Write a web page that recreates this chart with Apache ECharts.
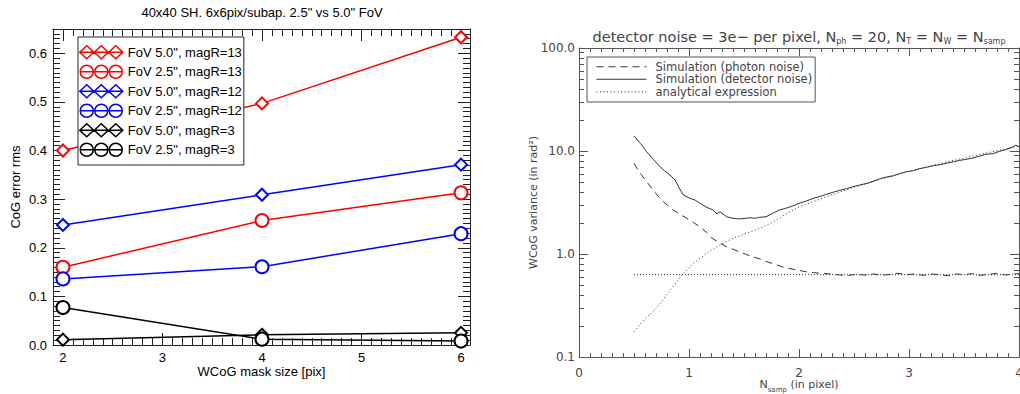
<!DOCTYPE html>
<html><head><meta charset="utf-8">
<script src="https://cdn.jsdelivr.net/npm/echarts@6/dist/echarts.min.js"></script>
<style>html,body{margin:0;padding:0;background:#fff;}#c{width:1020px;height:394px;}</style>
</head><body><div id="c"></div>
<script>
// ---------------- Left chart data ----------------
const maskSize = [2, 4, 6];
const fov50mag13 = [0.400, 0.497, 0.633];
const fov25mag13 = [0.160, 0.256, 0.313];
const fov50mag12 = [0.247, 0.309, 0.371];
const fov25mag12 = [0.136, 0.161, 0.229];
const fov50mag3  = [0.011, 0.021, 0.025];
const fov25mag3  = [0.077, 0.012, 0.008];
const leftNames = ['FoV 5.0", magR=13', 'FoV 2.5", magR=13', 'FoV 5.0", magR=12',
                   'FoV 2.5", magR=12', 'FoV 5.0", magR=3', 'FoV 2.5", magR=3'];
const leftXTicks = [2, 3, 4, 5, 6];
const leftYTicks = [0.0, 0.1, 0.2, 0.3, 0.4, 0.5, 0.6];

// ---------------- Right chart data ----------------
const photonX = [0.50,0.55,0.615,0.68,0.736,0.80,0.857,0.92,0.979,1.04,1.10,1.16,1.21,1.28,1.34,1.40,1.46,1.52,1.58,1.65,1.71,1.77,1.83,1.89,1.95,2.01,2.07,2.13,2.19,2.28,2.37,2.45,2.52,2.60,2.68,2.75,2.83,2.90,2.98,3.05,3.13,3.20,3.28,3.35,3.43,3.50,3.58,3.65,3.73,3.80,3.88,3.95,4.00];
const photonY = [7.6,6.2,5.03,4.1,3.47,3.0,2.67,2.42,2.22,2.02,1.84,1.62,1.42,1.28,1.18,1.11,1.05,0.99,0.94,0.89,0.84,0.80,0.76,0.73,0.71,0.69,0.67,0.66,0.65,0.64,0.626,0.62,0.635,0.625,0.64,0.62,0.635,0.65,0.63,0.64,0.62,0.64,0.63,0.615,0.64,0.63,0.645,0.62,0.635,0.65,0.625,0.64,0.645];
const detX = [0.50,0.56,0.615,0.68,0.736,0.78,0.827,0.873,0.91,0.948,1.009,1.055,1.10,1.161,1.221,1.252,1.282,1.342,1.40,1.448,1.50,1.552,1.60,1.642,1.70,1.76,1.82,1.88,1.94,2.00,2.07,2.13,2.19,2.25,2.31,2.37,2.43,2.49,2.56,2.62,2.68,2.74,2.80,2.86,2.92,2.98,3.04,3.10,3.16,3.22,3.28,3.34,3.40,3.46,3.52,3.58,3.64,3.70,3.76,3.82,3.88,3.94,3.97,4.00];
const detY = [14.0,11.8,9.85,8.2,7.04,6.4,5.85,5.23,4.4,3.74,3.47,3.34,3.1,2.84,2.67,2.45,2.57,2.30,2.22,2.19,2.21,2.25,2.22,2.27,2.30,2.48,2.67,2.78,2.92,3.1,3.28,3.47,3.62,3.8,3.98,4.15,4.3,4.5,4.7,4.85,5.1,5.4,5.6,5.75,6.05,6.3,6.45,6.75,6.95,7.2,7.35,7.6,7.85,8.1,8.3,8.55,8.9,9.3,9.4,9.9,10.3,10.9,11.4,11.0];
const anaX = [0.50,0.60,0.706,0.827,0.933,1.04,1.16,1.28,1.40,1.52,1.65,1.77,1.89,2.00,2.25,2.50,2.75,3.00,3.25,3.50,3.75,4.00];
const anaY = [0.176,0.235,0.30,0.44,0.62,0.81,1.016,1.22,1.42,1.59,1.78,2.06,2.48,2.85,3.6,4.45,5.35,6.35,7.4,8.55,9.8,11.2];
const constX = [0.5, 4.0];
const constY = [0.63, 0.63];
const rightNames = ['Simulation (photon noise)', 'Simulation (detector noise)', 'analytical expression'];
const rightXTicks = [0, 1, 2, 3, 4];
const rightYTicks = [0.1, 1, 10, 100];

// ---------------- helpers ----------------
function steps(a, b, s) { const out = []; const n = Math.round((b - a) / s); for (let i = 0; i <= n; i++) out.push(+(a + i * s).toFixed(6)); return out; }
function pairs(xs, ys) { return xs.map((x, i) => [x, ys[i]]); }
const FL = 'Liberation Sans';
const FR = 'DejaVu Sans';
const CL = '#222';
const CR = '#555';
const TR = '#444';

const leftXMinor = steps(2.0, 6.0, 0.1);
const leftYMinor = steps(0.0, 0.65, 0.01);
const rightXMinor = steps(0, 4, 0.1);
const rightYMinorLog = [];
[-1, 0, 1].forEach(k => { for (let m = 2; m <= 9; m++) rightYMinorLog.push(Math.log10(m) + k); });
const rightYMajorLog = rightYTicks.map(v => Math.log10(v));

function ax(o) {
  const base = { type: 'value', splitLine: { show: false },
    axisLine: { show: false, onZero: false }, axisLabel: { show: false }, axisTick: { show: false } };
  return Object.assign(base, o);
}
function tick(vals, len, color) { return { show: true, inside: true, length: len, customValues: vals, lineStyle: { color: color, width: 1 } }; }
const lineOn = (c) => ({ show: true, onZero: false, lineStyle: { color: c, width: 1 } });

const xAxes = [
  ax({ gridIndex: 0, position: 'bottom', min: 1.9, max: 6.09, axisLine: lineOn(CL),
       axisTick: tick(leftXTicks, 12, CL),
       axisLabel: { show: true, customValues: leftXTicks, margin: 6, color: '#000', fontSize: 13, fontFamily: FL },
       name: 'WCoG mask size [pix]', nameLocation: 'middle', nameGap: 20, nameMoveOverlap: false,
       nameTextStyle: { color: '#000', fontSize: 13, fontFamily: FL } }),
  ax({ gridIndex: 0, position: 'bottom', min: 1.9, max: 6.09, axisTick: tick(leftXMinor, 7, CL) }),
  ax({ gridIndex: 0, position: 'top', min: 1.9, max: 6.09, axisLine: lineOn(CL), axisTick: tick(leftXTicks, 12, CL) }),
  ax({ gridIndex: 0, position: 'top', min: 1.9, max: 6.09, axisTick: tick(leftXMinor, 7, CL) }),
  ax({ gridIndex: 1, position: 'bottom', min: 0, max: 4, axisLine: lineOn(CR),
       axisTick: tick(rightXTicks, 8, CR),
       axisLabel: { show: true, customValues: rightXTicks, margin: 10, color: TR, fontSize: 12, fontFamily: FR } }),
  ax({ gridIndex: 1, position: 'bottom', min: 0, max: 4, axisTick: tick(rightXMinor, 4, CR) }),
  ax({ gridIndex: 1, position: 'top', min: 0, max: 4, axisLine: lineOn(CR), axisTick: tick(rightXTicks, 8, CR) }),
  ax({ gridIndex: 1, position: 'top', min: 0, max: 4, axisTick: tick(rightXMinor, 4, CR) })
];

const yAxes = [
  ax({ gridIndex: 0, position: 'left', min: 0, max: 0.65, axisLine: lineOn(CL),
       axisTick: tick(leftYTicks, 12, CL),
       axisLabel: { show: true, customValues: leftYTicks, margin: 6, color: '#000', fontSize: 13, fontFamily: FL,
                    formatter: v => Number(v).toFixed(1) },
       name: 'CoG error rms', nameLocation: 'middle', nameGap: 31, nameMoveOverlap: false,
       nameTextStyle: { color: '#000', fontSize: 13, fontFamily: FL } }),
  ax({ gridIndex: 0, position: 'left', min: 0, max: 0.65, axisTick: tick(leftYMinor, 7, CL) }),
  ax({ gridIndex: 0, position: 'right', min: 0, max: 0.65, axisLine: lineOn(CL), axisTick: tick(leftYTicks, 12, CL) }),
  ax({ gridIndex: 0, position: 'right', min: 0, max: 0.65, axisTick: tick(leftYMinor, 7, CL) }),
  { type: 'log', logBase: 10, gridIndex: 1, position: 'left', min: 0.1, max: 100,
    splitLine: { show: false }, axisLine: lineOn(CR),
    axisTick: { show: true, inside: true, length: 9, lineStyle: { color: CR } },
    axisLabel: { show: true, margin: 4, color: TR, fontSize: 12, fontFamily: FR,
                 formatter: v => Number(v).toFixed(1) },
    name: 'WCoG variance (in rad²)', nameLocation: 'middle', nameGap: 40, nameMoveOverlap: false,
    nameTextStyle: { color: TR, fontSize: 11, fontFamily: FR } },
  ax({ gridIndex: 1, position: 'left', min: -1, max: 2, axisTick: tick(rightYMinorLog, 5, CR) }),
  ax({ gridIndex: 1, position: 'right', min: -1, max: 2, axisLine: lineOn(CR), axisTick: tick(rightYMajorLog, 9, CR) }),
  ax({ gridIndex: 1, position: 'right', min: -1, max: 2, axisTick: tick(rightYMinorLog, 5, CR) }),
  ax({ gridIndex: 1, position: 'left', min: -1, max: 2, axisTick: tick(rightYMajorLog, 9, CR) })
];

// legend icon paths (three markers threaded on a line)
const diamondIcon = 'path://M0,6.5L43,6.5M0,6.5L7,0L14,6.5L7,13ZM14.5,6.5L21.5,0L28.5,6.5L21.5,13ZM29,6.5L36,0L43,6.5L36,13Z';
const circleIcon = 'path://M0,6.5L43,6.5M0.5,6.5A6.5,6.5,0,1,1,13.5,6.5A6.5,6.5,0,1,1,0.5,6.5ZM15,6.5A6.5,6.5,0,1,1,28,6.5A6.5,6.5,0,1,1,15,6.5ZM29.5,6.5A6.5,6.5,0,1,1,42.5,6.5A6.5,6.5,0,1,1,29.5,6.5Z';
const lineIcon = 'path://M0,0M50,10M0,5L50,5';

const leftValues = [fov50mag13, fov25mag13, fov50mag12, fov25mag12, fov50mag3, fov25mag3];
const leftColors = ['#ff0000', '#ff0000', '#0000ff', '#0000ff', '#000000', '#000000'];
const leftSymbols = ['emptyDiamond', 'emptyCircle', 'emptyDiamond', 'emptyCircle', 'emptyDiamond', 'emptyCircle'];

const series = leftValues.map((vals, i) => ({
  name: leftNames[i], type: 'line', xAxisIndex: 0, yAxisIndex: 0,
  data: pairs(maskSize, vals),
  symbol: leftSymbols[i], symbolSize: leftSymbols[i] === 'emptyDiamond' ? 12 : 13,
  color: leftColors[i],
  lineStyle: { color: leftColors[i], width: 1.5 },
  itemStyle: { color: leftColors[i], borderColor: leftColors[i], borderWidth: 1.5 }
}));
const rstyle = (type) => ({ color: '#333', width: 1, type: type });
series.push(
  { name: rightNames[0], type: 'line', xAxisIndex: 4, yAxisIndex: 4, data: pairs(photonX, photonY),
    symbol: 'none', color: '#333', lineStyle: rstyle([7, 5]) },
  { name: rightNames[1], type: 'line', xAxisIndex: 4, yAxisIndex: 4, data: pairs(detX, detY),
    symbol: 'none', color: '#333', lineStyle: rstyle('solid') },
  { name: rightNames[2], type: 'line', xAxisIndex: 4, yAxisIndex: 4, data: pairs(anaX, anaY),
    symbol: 'none', color: '#333', lineStyle: rstyle([1, 2.5]) },
  { name: rightNames[2], type: 'line', xAxisIndex: 4, yAxisIndex: 4, data: pairs(constX, constY),
    symbol: 'none', color: '#333', lineStyle: rstyle([1, 2]) }
);

const option = {
  animation: false,
  backgroundColor: '#fff',
  title: [
    { text: '40x40 SH. 6x6pix/subap. 2.5" vs 5.0" FoV', left: 262, top: 6, textAlign: 'center', padding: 0,
      textStyle: { fontSize: 13, fontWeight: 'normal', color: '#000', fontFamily: FL } },
    { text: '{a|detector noise = 3e\u2212 per pixel, N}{b|ph}{a| = 20, N}{b|T}{a| = N}{b|W}{a| = N}{b|samp}',
      left: 799, top: 29, textAlign: 'center', padding: 0,
      textStyle: { fontWeight: 'normal', rich: {
        a: { fontSize: 14.5, fontWeight: 'normal', fontFamily: FR, color: TR, lineHeight: 16, verticalAlign: 'top' },
        b: { fontSize: 8, fontWeight: 'normal', fontFamily: FR, color: TR, lineHeight: 9, padding: [8, 0, 0, 0], verticalAlign: 'top' } } } },
    { text: '{a|N}{b|samp}{a| (in pixel)}', left: 799, top: 379, textAlign: 'center', padding: 0,
      textStyle: { fontWeight: 'normal', rich: {
        a: { fontSize: 11, fontWeight: 'normal', fontFamily: FR, color: TR, lineHeight: 14, verticalAlign: 'top' },
        b: { fontSize: 7, fontWeight: 'normal', fontFamily: FR, color: TR, lineHeight: 8, padding: [7, 0, 0, 0], verticalAlign: 'top' } } } }
  ],
  grid: [
    { left: 53, top: 29, width: 417, height: 316, outerBoundsMode: 'none', containLabel: false },
    { left: 579, top: 48, width: 440, height: 309, outerBoundsMode: 'none', containLabel: false }
  ],
  xAxis: xAxes,
  yAxis: yAxes,
  legend: [
    { orient: 'vertical', left: 78, top: 37, padding: [8, 2, 8, 1], itemWidth: 43, itemHeight: 13, itemGap: 5,
      backgroundColor: '#fff', borderColor: CL, borderWidth: 1, borderRadius: 0, selectedMode: false,
      textStyle: { fontSize: 13, fontFamily: FL, color: '#000', lineHeight: 13 },
      data: leftNames.map((n, i) => ({ name: n, icon: leftSymbols[i] === 'emptyDiamond' ? diamondIcon : circleIcon,
        itemStyle: { color: 'transparent', borderColor: leftColors[i], borderWidth: 1.5 } })) },
    { orient: 'vertical', left: 587, top: 57, padding: [3.5, 3, 4, 9], itemWidth: 50, itemHeight: 10, itemGap: 0,
      backgroundColor: '#fff', borderColor: CR, borderWidth: 1, borderRadius: 0, selectedMode: false,
      textStyle: { fontSize: 11.5, fontFamily: FR, color: TR, lineHeight: 12.5, padding: [0, 0, 0, 4] },
      data: [
        { name: rightNames[0], icon: lineIcon, itemStyle: { color: 'transparent', borderColor: '#333', borderWidth: 1, borderType: [7, 5] } },
        { name: rightNames[1], icon: lineIcon, itemStyle: { color: 'transparent', borderColor: '#333', borderWidth: 1, borderType: 'solid' } },
        { name: rightNames[2], icon: lineIcon, itemStyle: { color: 'transparent', borderColor: '#333', borderWidth: 1, borderType: [1, 2.5] } }
      ] }
  ],
  series: series
};

// SVG renderer: avoids canvas line batching that dropped the tick marks
const chart = echarts.init(document.getElementById('c'), null, { renderer: 'svg' });
chart.setOption(option);
</script></body></html>
